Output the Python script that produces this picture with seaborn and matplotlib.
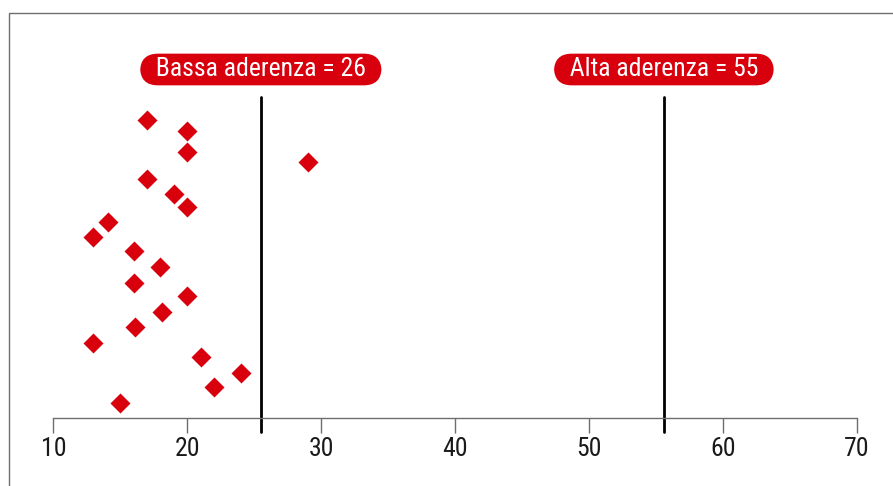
import matplotlib.pyplot as plt
import seaborn as sns
import pandas as pd
from matplotlib.patches import Rectangle

# valori
punteggio = [17, 20, 20, 29, 17, 19, 20, 14.1, 13, 16,
             18, 16, 20, 18.1, 16.1, 13, 21, 24, 22, 15]
posizione = [20.07, 19.33, 17.89, 17.22, 16.07, 15.1, 14.19, 13.18, 12.17, 11.25,
             10.19, 9.07, 8.24, 7.12, 6.13, 5.07, 4.11, 3.05, 2.09, 1.03]
soglie = [25.5, 55.6]
etichette = ["Bassa aderenza = 26", "Alta aderenza = 55"]
xticks = [10, 20, 30, 40, 50, 60, 70]

rosso = "#d9000d"
grigio = "#6e6e6e"

df = pd.DataFrame({"punteggio": punteggio, "posizione": posizione})

sns.set_style("white")
plt.rcParams["font.family"] = ["Roboto Condensed", "Archivo Narrow", "Liberation Sans", "DejaVu Sans"]

fig = plt.figure(figsize=(8.93, 4.86), dpi=100)
ax = fig.add_axes([53.3 / 893, 68 / 486, 803.4 / 893, 378 / 486])

sns.scatterplot(data=df, x="punteggio", y="posizione", marker="D", s=104,
                color=rosso, linewidth=0, ax=ax, legend=False)

ax.set_xlim(10, 70)
ax.set_ylim(0, 378 / 14.85)

# linee di soglia con etichetta
for val, lab in zip(soglie, etichette):
    ax.axvline(val, ymin=-14 / 378, ymax=(418 - 97) / 378, color="black",
               lw=2, clip_on=False, zorder=1)
    ax.text(val, (418 - 69.5) / 378, "  " + lab + "  ", transform=ax.get_xaxis_transform(),
            ha="center", va="center", color="white", fontsize=18.5,
            bbox=dict(boxstyle="round,pad=0.15,rounding_size=0.7",
                      facecolor=rosso, edgecolor="none"))

ax.set_xticks(xticks)
ax.set_xticklabels([str(t) for t in xticks], fontsize=18.5, color="#1a1a1a")
ax.tick_params(axis="x", direction="out", length=11, width=1, color=grigio,
               bottom=True, pad=3)
ax.set_yticks([])
ax.set_xlabel("")
ax.set_ylabel("")
for s in ["left", "top", "right"]:
    ax.spines[s].set_visible(False)
ax.spines["bottom"].set_color(grigio)
ax.spines["bottom"].set_linewidth(1)

# cornice grigia della figura
fig.patches.append(Rectangle((9 / 893, -0.1), 1.0, (486 - 13) / 486 + 0.1,
                             transform=fig.transFigure, fill=False,
                             edgecolor=grigio, lw=1))

fig.savefig("out.png", dpi=100)
